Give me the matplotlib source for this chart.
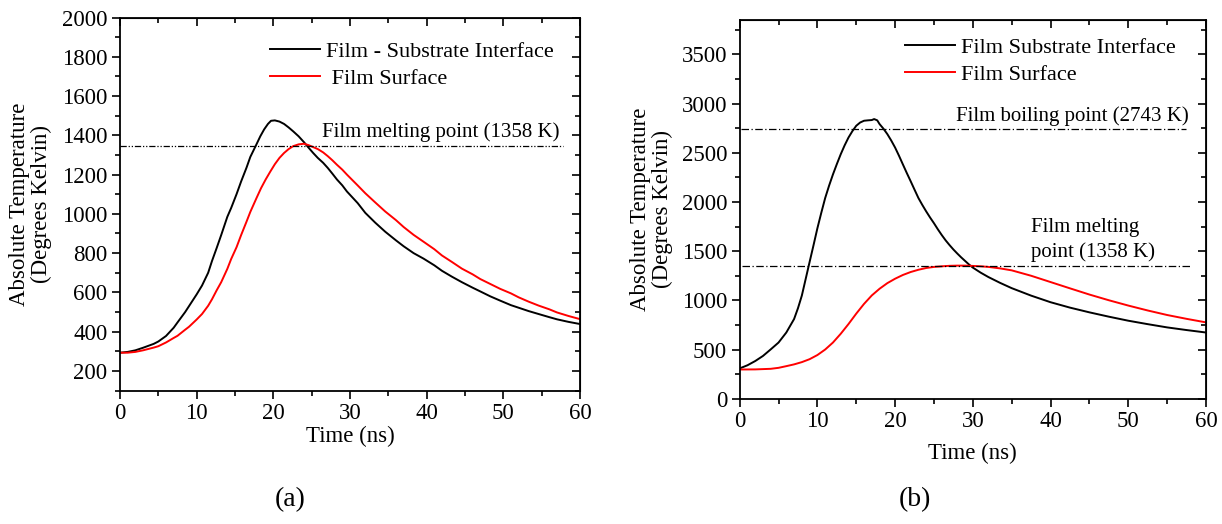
import matplotlib.pyplot as plt
import numpy as np

plt.rcParams['font.family'] = ['Liberation Serif', 'DejaVu Serif']

# (a) values
t_a = [0, 1, 2, 3, 4.4, 5, 6, 7, 7.5, 8.5, 9, 10, 10.7, 11.5, 12, 12.6, 13.2, 14, 14.5, 15.2, 15.8, 16.5, 17, 17.8,
       18.3, 18.8, 19.3, 19.7, 20.2, 20.8, 21.4, 22, 22.6, 23.3, 24, 24.6, 25.2, 25.8, 26.5, 27.1, 27.7, 28.3, 29, 29.6,
       31, 32, 33.3, 34.6, 36, 37, 38.3, 39.6, 41, 42, 43.3, 44.6, 46, 47, 48.3, 49.6, 51, 52, 53.3, 54.6, 56, 57, 58.5, 60]
sub_a = [293, 297, 305, 318, 338, 350, 378, 420, 447, 500, 530, 590, 635, 700, 760, 825, 892, 985, 1030, 1100, 1165, 1235,
         1290, 1354, 1395, 1430, 1458, 1474, 1476, 1470, 1458, 1440, 1420, 1395, 1365, 1337, 1310, 1285, 1260, 1234,
         1205, 1175, 1145, 1114, 1055, 1005, 955, 909, 865, 835, 800, 772, 738, 710, 680, 652, 624, 605, 580, 558, 535,
         522, 505, 490, 474, 463, 450, 439]
t_a2 = [0, 1, 2, 3, 4.4, 5, 6, 7, 7.5, 8.5, 9, 10, 10.7, 11.5, 12, 12.6, 13.2, 14, 14.5, 15.2, 15.8, 16.5, 17, 17.8,
        18.4, 19, 19.6, 20.2, 20.8, 21.4, 22, 22.6, 23.3, 24, 24.6, 25.2, 25.8, 26.5, 27.1, 27.7, 28.3, 29, 29.6, 31,
        32, 33.3, 34.6, 36, 37, 38.3, 39.6, 41, 42, 43.3, 44.6, 46, 47, 48.3, 49.6, 51, 52, 53.3, 54.6, 56, 57, 58.5, 60]
surf_a = [293, 293, 297, 305, 319, 326, 345, 368, 379, 410, 425, 462, 490, 532, 565, 610, 652, 720, 770, 830, 892, 960,
          1010, 1080, 1131, 1175, 1215, 1253, 1285, 1310, 1330, 1345, 1354, 1357, 1350, 1340, 1330, 1313, 1294, 1273,
          1250, 1225, 1200, 1145, 1105, 1058, 1012, 968, 933, 893, 858, 820, 788, 755, 721, 692, 668, 643, 618, 595,
          575, 553, 533, 514, 498, 480, 464]

# (b) values
t_b = [0, 1, 2, 3, 4, 5, 6, 7, 7.5, 8, 8.5, 9, 9.5, 10, 10.5, 11, 11.5, 12, 12.5, 13, 13.5, 14, 14.5, 15, 15.5, 16,
       16.5, 17, 17.3, 17.7, 18, 18.5, 19, 19.5, 20, 20.5, 21, 21.5, 22, 22.5, 23, 23.5, 24, 24.5, 25, 25.5, 26, 26.5,
       27, 27.5, 28, 28.5, 29, 29.5, 30, 31, 32, 33.5, 35, 37.5, 40, 42.5, 45, 47.5, 50, 52.5, 55, 57.5, 60]
sub_b = [308, 340, 383, 435, 502, 571, 673, 810, 920, 1049, 1220, 1391, 1560, 1733, 1890, 2040, 2165, 2280, 2385, 2485,
         2575, 2655, 2720, 2775, 2808, 2826, 2830, 2833, 2843, 2830, 2792, 2745, 2690, 2625, 2553, 2470, 2382, 2295,
         2211, 2125, 2040, 1970, 1904, 1842, 1784, 1722, 1664, 1610, 1562, 1517, 1476, 1437, 1401, 1365, 1333, 1282,
         1237, 1178, 1124, 1048, 981, 926, 878, 834, 793, 758, 725, 698, 673]
t_b2 = [0, 2, 4, 5, 6, 7, 8, 9, 10, 11, 12, 13, 14, 15, 16, 17, 18, 19, 20, 21, 22, 23, 24, 25, 26, 27, 28, 29, 30, 31,
        32, 33.5, 35, 37.5, 40, 42.5, 45, 47.5, 50, 52.5, 55, 57.5, 60]
surf_b = [297, 298, 304, 314, 331, 349, 372, 402, 444, 500, 571, 660, 759, 865, 964, 1050, 1118, 1175, 1220, 1258,
          1288, 1311, 1329, 1340, 1346, 1351, 1353, 1353, 1350, 1346, 1340, 1325, 1305, 1250, 1186, 1122, 1059, 1001,
          947, 897, 851, 812, 776]

melt_a = 1345
melt_b = 1350
boil_b = 2743

fig = plt.figure(figsize=(12.22, 5.24), dpi=100)
ax1 = fig.add_axes([0.0982, 0.2546, 0.3764, 0.712])
ax2 = fig.add_axes([0.6053, 0.2391, 0.3816, 0.7227])


def style(ax, ylim, ymaj, ymin):
    ax.set_xlim(0, 60)
    ax.set_ylim(*ylim)
    ax.set_xticks(np.arange(0, 61, 10))
    ax.set_xticks(np.arange(0, 61, 5), minor=True)
    ax.set_yticks(ymaj)
    ax.set_yticks(ymin, minor=True)
    ax.tick_params(which='major', direction='out', length=6, width=1.2, labelsize=16.5, pad=3)
    ax.tick_params(which='minor', direction='out', length=3.5, width=1.2)
    for s in ax.spines.values():
        s.set_linewidth(1.3)
    top = ax.secondary_xaxis('top')
    top.set_xticks(ax.get_xticks())
    top.set_xticks(np.arange(0, 61, 5), minor=True)
    top.tick_params(which='both', direction='in', labeltop=False)
    top.tick_params(which='major', length=6, width=1.2)
    top.tick_params(which='minor', length=3.5, width=1.2)
    right = ax.secondary_yaxis('right')
    right.set_yticks(ymaj)
    right.set_yticks(ymin, minor=True)
    right.tick_params(which='both', direction='in', labelright=False)
    right.tick_params(which='major', length=6, width=1.2)
    right.tick_params(which='minor', length=3.5, width=1.2)
    ax.set_ylabel('Absolute Temperature\n(Degrees Kelvin)', fontsize=16.5, linespacing=1.05)


style(ax1, (100, 2000), np.arange(200, 2001, 200), np.arange(100, 2001, 100))
ax1.plot(t_a, sub_a, color='black', lw=1.4, label='Film - Substrate Interface')
ax1.plot(t_a2, surf_a, color='red', lw=1.4, label=' Film Surface')
ax1.plot([0, 57.8], [melt_a, melt_a], color='black', lw=0.9, dashes=[5, 1.5, 1, 1.5, 1, 1.5])
ax1.text(26.3, 1417, 'Film melting point (1358 K)', fontsize=15, va='center')
ax1.legend(loc='upper left', bbox_to_anchor=(0.283, 0.99), frameon=False, fontsize=16, handlelength=2.25,
           handletextpad=0.27, labelspacing=0.3)
ax1.set_xlabel('Time (ns)', fontsize=16.5, labelpad=1)
ax1.yaxis.set_label_coords(-0.148, 0.5)

style(ax2, (0, 3850), np.arange(0, 3501, 500), np.arange(0, 3851, 250))
ax2.plot(t_b, sub_b, color='black', lw=1.4, label='Film Substrate Interface')
ax2.plot(t_b2, surf_b, color='red', lw=1.4, label='Film Surface')
ax2.plot([0.15, 57.4], [boil_b, boil_b], color='black', lw=0.9, dashes=[6, 2, 1, 2])
ax2.plot([0.3, 58], [melt_b, melt_b], color='black', lw=0.9, dashes=[6, 2, 1, 2])
ax2.text(27.8, 2870, 'Film boiling point (2743 K)', fontsize=15, va='center')
ax2.text(37.5, 1615, 'Film melting\npoint (1358 K)', fontsize=15, va='center', linespacing=1.4)
ax2.legend(loc='upper left', bbox_to_anchor=(0.312, 1.008), frameon=False, fontsize=16, handlelength=2.25,
           handletextpad=0.27, labelspacing=0.3)
ax2.set_xlabel('Time (ns)', fontsize=16.5, labelpad=8)
ax2.yaxis.set_label_coords(-0.142, 0.5)

fig.text(290 / 1222, 1 - 500 / 524, '(a)', fontsize=20, ha='center', va='center')
fig.text(915 / 1222, 1 - 500 / 524, '(b)', fontsize=20, ha='center', va='center')

fig.savefig('out.png', dpi=100)
